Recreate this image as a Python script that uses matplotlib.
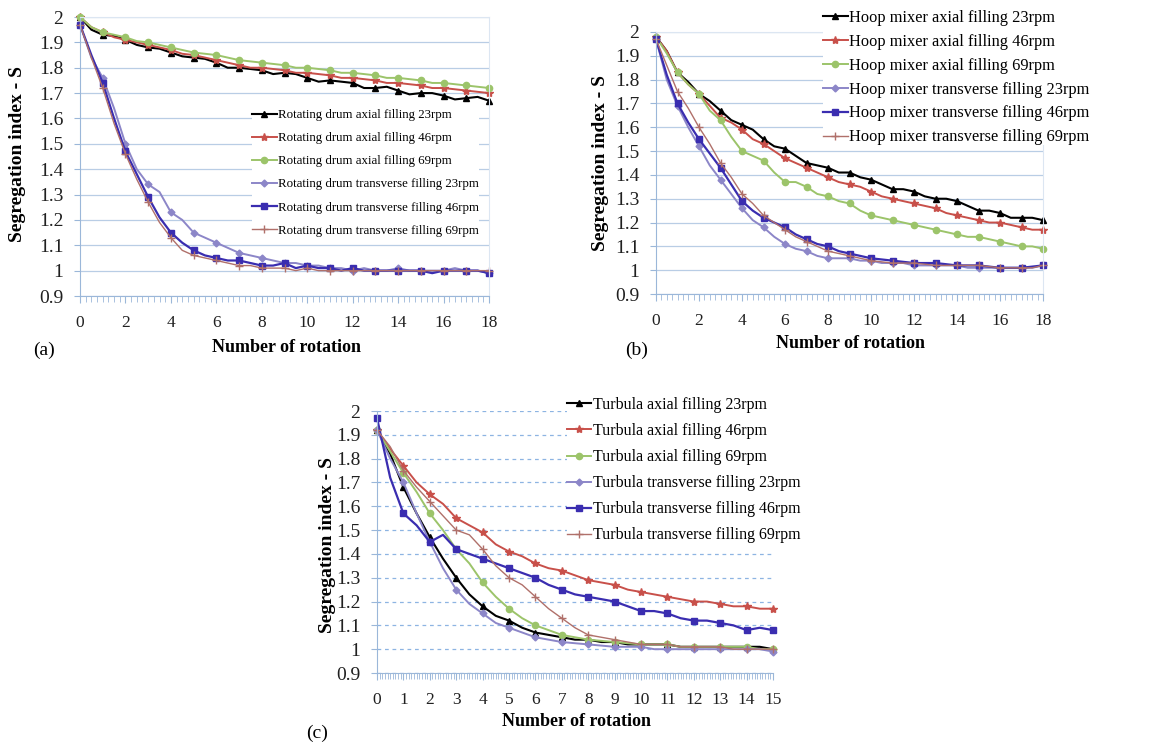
import numpy as np
import matplotlib
matplotlib.use("Agg")
import matplotlib.pyplot as plt
from matplotlib.ticker import MultipleLocator

plt.rcParams['font.family'] = ['Liberation Serif', 'DejaVu Serif']

W, H = 1168, 746

# ---------------- data (step 0.5 rotation) ----------------
x_ab = np.arange(0, 18.01, 0.5)
x_c = np.arange(0, 15.01, 0.5)

# (a) rotating drum
a_ax23 = [2.00,1.95,1.93,1.925,1.91,1.89,1.88,1.875,1.86,1.845,1.84,1.835,1.82,1.80,1.80,1.795,1.79,1.775,1.78,
          1.775,1.76,1.745,1.75,1.745,1.74,1.72,1.72,1.725,1.71,1.695,1.70,1.70,1.69,1.675,1.68,1.685,1.67]
a_ax46 = [2.00,1.96,1.94,1.92,1.91,1.90,1.89,1.88,1.87,1.855,1.85,1.84,1.83,1.82,1.81,1.80,1.80,1.795,1.79,
          1.78,1.78,1.775,1.77,1.76,1.76,1.755,1.75,1.74,1.74,1.735,1.73,1.72,1.72,1.715,1.71,1.705,1.70]
a_ax69 = [2.00,1.96,1.94,1.93,1.92,1.905,1.90,1.89,1.88,1.87,1.86,1.855,1.85,1.84,1.83,1.825,1.82,1.815,1.81,
          1.80,1.80,1.795,1.79,1.78,1.78,1.775,1.77,1.76,1.76,1.755,1.75,1.74,1.74,1.735,1.73,1.725,1.72]
a_tr23 = [1.97,1.84,1.76,1.64,1.50,1.40,1.34,1.31,1.23,1.20,1.15,1.13,1.11,1.09,1.07,1.06,1.05,1.04,1.03,
          1.03,1.02,1.02,1.01,1.01,1.00,1.01,1.00,1.00,1.01,1.00,1.00,1.00,1.00,1.01,1.00,1.00,0.99]
a_tr46 = [1.97,1.85,1.74,1.60,1.47,1.38,1.29,1.21,1.15,1.11,1.08,1.06,1.05,1.04,1.04,1.03,1.02,1.02,1.03,
          1.01,1.02,1.01,1.01,1.00,1.01,1.00,1.00,1.00,1.00,1.00,1.00,0.99,1.00,1.00,1.00,1.00,0.99]
a_tr69 = [1.97,1.84,1.72,1.58,1.46,1.36,1.27,1.19,1.13,1.08,1.06,1.05,1.04,1.03,1.02,1.02,1.01,1.01,1.01,
          1.00,1.01,1.00,1.00,1.00,1.00,1.00,1.00,1.00,1.00,1.00,1.00,1.00,1.00,1.00,1.00,1.00,1.00]

# (b) hoop mixer
b_ax23 = [1.98,1.92,1.83,1.79,1.74,1.71,1.67,1.63,1.61,1.59,1.55,1.52,1.51,1.48,1.45,1.44,1.43,1.41,1.41,
          1.39,1.38,1.36,1.34,1.34,1.33,1.31,1.30,1.30,1.29,1.27,1.25,1.25,1.24,1.22,1.22,1.22,1.21]
b_ax46 = [1.98,1.92,1.83,1.78,1.74,1.69,1.64,1.62,1.59,1.55,1.53,1.50,1.47,1.45,1.43,1.41,1.39,1.37,1.36,
          1.35,1.33,1.31,1.30,1.29,1.28,1.27,1.26,1.24,1.23,1.22,1.21,1.20,1.20,1.19,1.18,1.17,1.17]
b_ax69 = [1.98,1.91,1.83,1.78,1.74,1.67,1.63,1.56,1.50,1.48,1.46,1.41,1.37,1.37,1.35,1.32,1.31,1.29,1.28,
          1.25,1.23,1.22,1.21,1.20,1.19,1.18,1.17,1.16,1.15,1.14,1.14,1.13,1.12,1.11,1.10,1.10,1.09]
b_tr23 = [1.97,1.80,1.69,1.60,1.52,1.44,1.38,1.32,1.26,1.21,1.18,1.14,1.11,1.09,1.08,1.06,1.05,1.05,1.05,
          1.04,1.04,1.03,1.03,1.03,1.02,1.02,1.02,1.02,1.02,1.01,1.01,1.01,1.01,1.01,1.01,1.01,1.02]
b_tr46 = [1.97,1.82,1.70,1.62,1.55,1.49,1.43,1.36,1.29,1.25,1.22,1.20,1.18,1.15,1.13,1.11,1.10,1.08,1.07,
          1.06,1.05,1.045,1.04,1.035,1.03,1.03,1.03,1.025,1.02,1.02,1.02,1.015,1.01,1.01,1.01,1.015,1.02]
b_tr69 = [1.97,1.86,1.75,1.68,1.60,1.53,1.45,1.39,1.32,1.28,1.23,1.20,1.17,1.14,1.12,1.10,1.08,1.07,1.06,
          1.05,1.04,1.035,1.03,1.03,1.03,1.025,1.02,1.02,1.02,1.02,1.02,1.015,1.01,1.01,1.01,1.01,1.02]

# (c) turbula
c_ax23 = [1.92,1.82,1.68,1.57,1.47,1.38,1.30,1.23,1.18,1.14,1.12,1.09,1.07,1.06,1.05,1.04,
          1.04,1.03,1.03,1.02,1.02,1.02,1.02,1.01,1.01,1.01,1.01,1.01,1.01,1.01,1.00]
c_ax46 = [1.92,1.84,1.77,1.70,1.65,1.61,1.55,1.52,1.49,1.44,1.41,1.39,1.36,1.34,1.33,1.31,
          1.29,1.28,1.27,1.25,1.24,1.23,1.22,1.21,1.20,1.20,1.19,1.18,1.18,1.17,1.17]
c_ax69 = [1.92,1.83,1.74,1.66,1.57,1.50,1.42,1.36,1.28,1.22,1.17,1.13,1.10,1.08,1.06,1.05,
          1.04,1.035,1.03,1.025,1.02,1.02,1.02,1.01,1.01,1.01,1.01,1.01,1.01,1.00,1.00]
c_tr23 = [1.92,1.80,1.70,1.57,1.45,1.34,1.25,1.19,1.15,1.11,1.09,1.07,1.05,1.04,1.03,1.025,
          1.02,1.015,1.01,1.01,1.01,1.00,1.00,1.00,1.00,1.00,1.00,1.00,1.00,1.00,0.99]
c_tr46 = [1.97,1.72,1.57,1.52,1.45,1.48,1.42,1.40,1.38,1.36,1.34,1.32,1.30,1.27,1.25,1.23,
          1.22,1.21,1.20,1.18,1.16,1.16,1.15,1.13,1.12,1.12,1.11,1.10,1.08,1.09,1.08]
c_tr69 = [1.92,1.85,1.75,1.68,1.62,1.56,1.50,1.48,1.42,1.35,1.30,1.27,1.22,1.17,1.13,1.09,
          1.06,1.05,1.04,1.03,1.02,1.02,1.02,1.01,1.01,1.01,1.01,1.00,1.00,1.00,1.00]

suffixes = ["axial filling 23rpm", "axial filling 46rpm", "axial filling 69rpm",
            "transverse filling 23rpm", "transverse filling 46rpm", "transverse filling 69rpm"]

# series styles: colour, marker, marker size, line width
styles = [("#000000", "^", 5, 1.5),
          ("#C8504A", "*", 6, 1.4),
          ("#9CC46A", "o", 4.5, 1.4),
          ("#8C86C8", "D", 3.5, 1.4),
          ("#3A2DB0", "s", 4.5, 1.6),
          ("#B0706A", "+", 6, 1.0)]

axis_col = "#9BB7D9"


def px_axes(l, r, t, b):
    return [l / W, 1 - b / H, (r - l) / W, (b - t) / H]


def draw_panel(ax, x, series, xmax, xstep, minor, dashed_grid):
    for ys, st in zip(series, styles):
        col, mk, ms, lw = st
        ax.plot(x, ys, color=col, lw=lw, marker=mk, ms=ms, markevery=2,
                mec=col, mfc=col, mew=1.0, clip_on=False)
    ax.set_xlim(0, xmax)
    ax.set_ylim(0.9, 2.0)
    ax.set_yticks(np.round(np.arange(0.9, 2.01, 0.1), 1))
    ax.set_yticklabels(["0.9", "1", "1.1", "1.2", "1.3", "1.4", "1.5", "1.6", "1.7", "1.8", "1.9", "2"])
    ax.xaxis.set_major_locator(MultipleLocator(xstep))
    ax.xaxis.set_minor_locator(MultipleLocator(minor))
    ax.tick_params(axis='y', labelsize=14, length=4, pad=8, color=axis_col, labelcolor="#202020")
    ax.tick_params(axis='x', which='major', labelsize=12.5, length=5, pad=9, color=axis_col,
                   labelcolor="#202020")
    ax.tick_params(axis='x', which='minor', length=4, color=axis_col)
    if dashed_grid:
        ax.yaxis.grid(True, color="#8DB4E2", lw=0.9, ls=(0, (3, 3)))
        ax.spines['top'].set_visible(False)
        ax.spines['right'].set_visible(False)
    else:
        ax.yaxis.grid(True, color="#B9CDE5", lw=0.9)
        ax.spines['top'].set_color("#DCE6F2")
        ax.spines['right'].set_color("#DCE6F2")
    ax.spines['left'].set_color(axis_col)
    ax.spines['bottom'].set_color(axis_col)
    ax.set_axisbelow(True)


def add_legend(ax, prefix, left, top, fs, spacing, hlen):
    handles = ax.get_lines()[:6]
    labels = [prefix + s for s in suffixes]
    ax.legend(handles, labels, loc='upper left', bbox_to_anchor=(left / W, 1 - top / H),
              bbox_transform=fig.transFigure, frameon=True, facecolor="white", edgecolor="none",
              framealpha=1.0, fancybox=False, borderpad=0, borderaxespad=0,
              handlelength=hlen, handletextpad=0.1, labelspacing=spacing,
              prop={'family': 'Liberation Serif', 'size': fs})


fig = plt.figure(figsize=(W / 100, H / 100), dpi=100)

ax_a = fig.add_axes(px_axes(80, 489, 17, 296))
draw_panel(ax_a, x_ab, [a_ax23, a_ax46, a_ax69, a_tr23, a_tr46, a_tr69], 18, 2, 0.25, False)
add_legend(ax_a, "Rotating drum ", 252, 109, 9.3, 0.86, 1.9)

ax_b = fig.add_axes(px_axes(656, 1043, 32, 294))
draw_panel(ax_b, x_ab, [b_ax23, b_ax46, b_ax69, b_tr23, b_tr46, b_tr69], 18, 2, 0.25, False)
add_legend(ax_b, "Hoop mixer ", 823, 10, 11.8, 0.48, 1.5)

ax_c = fig.add_axes(px_axes(377, 773, 411, 673))
draw_panel(ax_c, x_c, [c_ax23, c_ax46, c_ax69, c_tr23, c_tr46, c_tr69], 15, 1, 0.1, True)
add_legend(ax_c, "Turbula ", 567, 397, 11.5, 0.63, 1.5)

# axis titles and panel letters placed at their pixel positions
lab = dict(fontweight='bold', fontsize=13, ha='center', va='center')
ylab = dict(fontweight='bold', fontsize=14, ha='center', va='center', rotation=90)
fig.text(287 / W, 1 - 348 / H, "Number of rotation", **lab)
fig.text(850 / W, 1 - 343 / H, "Number of rotation", **lab)
fig.text(576 / W, 1 - 722 / H, "Number of rotation", **lab)
fig.text(18 / W, 1 - 154 / H, "Segregation index - S", **ylab)
fig.text(600 / W, 1 - 163 / H, "Segregation index - S", **ylab)
fig.text(328 / W, 1 - 545 / H, "Segregation index - S", **ylab)

fig.text(44 / W, 1 - 350 / H, "(a)", fontsize=14, ha='center', va='center')
fig.text(637 / W, 1 - 350 / H, "(b)", fontsize=14, ha='center', va='center')
fig.text(317 / W, 1 - 733 / H, "(c)", fontsize=14, ha='center', va='center')

fig.savefig("out.png", dpi=100)
